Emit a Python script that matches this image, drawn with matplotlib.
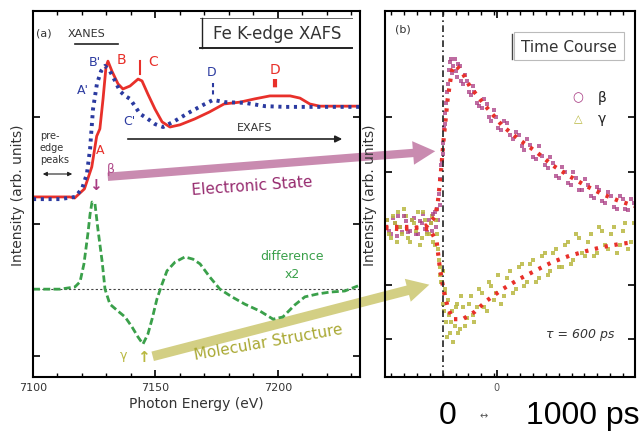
import numpy as np
import matplotlib
matplotlib.use('Agg')
import matplotlib.pyplot as plt
from matplotlib.ticker import FixedLocator, NullFormatter

# --- (a) Fe K-edge XANES spectra ---
E_red = [7100, 7115, 7117, 7121, 7124, 7126, 7127.3, 7128.6, 7129.8, 7130.6, 7132.2, 7134.7,
         7136.7, 7139.6, 7142.9, 7144.5, 7146.9, 7149.8, 7152.7, 7155.9, 7160, 7166, 7172,
         7178, 7184.5, 7190.6, 7196.7, 7205, 7209, 7213, 7217, 7233]
I_red = [4.92, 4.92, 4.89, 5.14, 5.74, 6.58, 6.78, 7.60, 8.47, 8.63, 8.36, 8.01,
         7.87, 7.95, 8.14, 8.09, 7.73, 7.32, 6.97, 6.83, 6.89, 7.05, 7.24,
         7.46, 7.51, 7.60, 7.68, 7.68, 7.62, 7.46, 7.40, 7.40]

E_blue = [7100, 7111, 7117.1, 7120, 7122, 7123.3, 7124.5, 7126.1, 7127.8, 7129.4, 7131.4,
          7133.5, 7135.5, 7137.6, 7139.6, 7141.6, 7143.7, 7146.9, 7149.8, 7153.1, 7158,
          7164.1, 7170.2, 7173.5, 7178.4, 7186.5, 7194.7, 7202.9, 7213.1, 7233.5]
I_blue = [4.86, 4.86, 4.92, 5.14, 5.55, 6.23, 7.32, 8.01, 8.36, 8.50, 8.36,
          8.09, 7.81, 7.68, 7.60, 7.40, 7.19, 7.05, 6.91, 6.83, 7.00,
          7.24, 7.46, 7.57, 7.51, 7.49, 7.40, 7.38, 7.38, 7.38]

E_diff = [7100, 7104.9, 7111, 7117.1, 7119.2, 7120.8, 7122.4, 7123.3, 7124.1, 7125.3, 7126.5,
          7128.2, 7129.4, 7131.4, 7134.7, 7137.6, 7140.4, 7142.9, 7144.9, 7146.9, 7148.6,
          7150.6, 7152.7, 7154.7, 7158, 7162, 7165.3, 7168.2, 7172.2, 7176.3, 7181.2,
          7186.5, 7192.7, 7198, 7202, 7206.9, 7211, 7216.3, 7221.2, 7227.3, 7232.7]
I_diff = [2.40, 2.40, 2.40, 2.46, 2.60, 3.09, 3.91, 4.45, 4.78, 4.73, 4.04,
          3.17, 2.40, 1.99, 1.80, 1.64, 1.37, 1.09, 0.90, 1.17, 1.58,
          2.13, 2.54, 2.90, 3.14, 3.28, 3.22, 3.09, 2.73, 2.40, 2.19,
          1.99, 1.80, 1.58, 1.64, 1.97, 2.19, 2.27, 2.32, 2.35, 2.49]
diff_zero = 2.40

# --- (b) time course ---
t_beta_fit = [-300, -223, -145, -78, -41, -26, -10, 5, 26, 47, 67, 98, 140, 223, 311, 399,
              487, 570, 658, 746, 829, 917, 1000]
y_beta_fit = [4.07, 4.04, 4.07, 4.15, 4.37, 4.73, 5.55, 6.50, 7.60, 8.36, 8.52, 8.36, 7.95,
              7.40, 6.86, 6.48, 6.15, 5.79, 5.49, 5.22, 5.00, 4.81, 4.67]
t_gam_fit = [-300, -171, -67, -31, -16, 5, 26, 52, 104, 166, 228, 311, 399, 487, 570, 658,
             746, 829, 917, 1000]
y_gam_fit = [4.10, 4.10, 4.04, 3.69, 3.03, 2.35, 1.91, 1.58, 1.58, 1.78, 2.08, 2.40, 2.68,
             2.92, 3.14, 3.31, 3.44, 3.55, 3.63, 3.69]

t_obs = [-290, -270, -250, -230, -210, -190, -170, -150, -130, -110, -90, -70, -55, -40, -30,
         -20, -12, -5, 2, 10, 18, 28, 38, 50, 62, 75, 90, 105, 125, 145, 165, 190, 215, 240,
         265, 290, 320, 350, 380, 410, 440, 470, 500, 530, 560, 590, 620, 650, 680, 710, 740,
         770, 800, 830, 860, 890, 920, 950, 980]
beta_obs = [4.3, 3.9, 4.2, 4.4, 3.95, 4.25, 4.0, 4.35, 3.9, 4.2, 4.05, 4.3, 4.0, 4.5, 4.6,
            5.0, 5.4, 5.9, 6.4, 6.9, 7.5, 8.0, 8.6, 8.3, 8.7, 8.2, 8.5, 8.0, 8.1, 7.7, 7.8,
            7.4, 7.6, 7.1, 7.3, 6.8, 7.0, 6.6, 6.7, 6.3, 6.5, 6.0, 6.3, 5.8, 6.0, 5.5, 5.75,
            5.3, 5.6, 5.1, 5.4, 4.95, 5.2, 4.8, 5.05, 4.65, 4.95, 4.6, 4.85]
gam_obs = [4.3, 3.8, 4.2, 4.5, 3.9, 4.4, 3.7, 4.2, 4.5, 3.8, 4.3, 3.9, 4.4, 3.6, 3.9,
           3.2, 2.8, 2.6, 2.0, 2.4, 1.5, 2.1, 1.2, 1.8, 1.4, 2.0, 1.3, 1.9, 1.6, 2.2, 1.5,
           2.4, 1.9, 2.6, 2.1, 2.8, 2.2, 2.9, 2.4, 3.1, 2.6, 3.2, 2.7, 3.4, 2.9, 3.5, 3.0,
           3.7, 3.2, 3.8, 3.3, 3.9, 3.4, 4.0, 3.5, 4.1, 3.6, 4.2, 3.7]

t_obs2 = [-280, -260, -240, -220, -200, -180, -160, -140, -120, -100, -80, -62, -48, -35, -25,
          -16, -8, -1, 6, 14, 23, 33, 44, 56, 68, 82, 97, 115, 135, 155, 178, 202, 228, 252,
          278, 305, 335, 365, 395, 425, 455, 485, 515, 545, 575, 605, 635, 665, 695, 725, 755,
          785, 815, 845, 875, 905, 935, 965, 995]
beta_obs2 = [4.0, 4.35, 3.85, 4.1, 4.4, 3.95, 4.3, 3.9, 4.25, 4.45, 3.95, 4.2, 4.45, 4.1, 4.3,
             4.7, 5.8, 6.1, 6.8, 7.2, 7.8, 8.4, 8.7, 8.5, 8.35, 8.55, 8.1, 8.25, 7.8, 7.95,
             7.5, 7.35, 7.45, 7.0, 7.1, 6.75, 6.95, 6.5, 6.6, 6.2, 6.35, 5.95, 6.05, 5.7, 5.85,
             5.45, 5.6, 5.25, 5.45, 5.1, 5.25, 4.9, 5.1, 4.75, 4.95, 4.6, 4.85, 4.55, 4.75]
gam_obs2 = [3.9, 4.4, 3.7, 4.1, 4.6, 3.8, 4.3, 4.0, 3.6, 4.5, 3.9, 4.2, 3.7, 4.3, 3.5,
            3.0, 2.6, 2.9, 1.8, 2.3, 1.1, 1.7, 1.5, 0.95, 1.9, 1.2, 2.2, 1.4, 2.0, 1.7,
            1.9, 2.3, 1.8, 2.5, 2.3, 2.0, 2.7, 2.3, 3.0, 2.5, 3.1, 2.6, 3.3, 2.8, 3.4,
            3.0, 3.6, 3.1, 3.9, 3.4, 3.7, 3.3, 4.1, 3.6, 3.9, 3.4, 4.0, 3.5, 4.2]

RED = '#e8302a'
BLUE = '#2b3aa0'
GREEN = '#3aa04a'
PURPLE = '#a83a82'
OLIVE = '#b9b840'

W, H = 644, 435
fig = plt.figure(figsize=(W / 100, H / 100), dpi=100)
plt.rcParams['font.family'] = ['DejaVu Sans']

def ft(x, y, s, **kw):
    # text placed in pixel coordinates of the picture (from top-left)
    fig.text(x / W, 1 - y / H, s, **kw)

def fline(xs, ys, **kw):
    fig.add_artist(plt.Line2D([x / W for x in xs], [1 - y / H for y in ys], **kw))

ax1 = fig.add_axes([33 / W, 57 / H, 327 / W, 366 / H])
ax2 = fig.add_axes([385 / W, 57 / H, 250 / W, 366 / H])
ax2.set_facecolor('none')

# left panel
ax1.plot(E_red, I_red, color=RED, lw=2)
ax1.plot(E_blue, I_blue, color=BLUE, lw=2.8, ls=(0, (0.8, 1.2)))
ax1.axhline(diff_zero, color='#444444', lw=0.8, ls=(0, (2, 2)))
ax1.plot(E_diff, I_diff, color=GREEN, lw=2, ls=(0, (2.5, 1.2)))
ax1.set_xlim(7100, 7233.5)
ax1.set_ylim(0, 10)
ax1.set_xticks([7100, 7150, 7200])
ax1.set_xticklabels(['7100', '7150', '7200'], fontsize=8, color='#333333')
ax1.xaxis.set_minor_locator(FixedLocator(np.arange(7110, 7233, 10)))
ax1.yaxis.set_major_locator(FixedLocator([0.57, 4.18, 7.1]))
ax1.yaxis.set_major_formatter(NullFormatter())
ax1.tick_params(direction='in', top=True, right=True, length=5, width=1.2)
ax1.tick_params(which='minor', direction='in', top=True, length=3, width=1)
ax1.set_xlabel('Photon Energy (eV)', fontsize=10, color='#333333', labelpad=3)
ax1.set_ylabel('Intensity (arb. units)', fontsize=10, color='#333333', labelpad=2)
for s in ax1.spines.values():
    s.set_linewidth(1.5)

# right panel
for tt, bb, gg in [(t_obs, beta_obs, gam_obs), (t_obs2, beta_obs2, gam_obs2)]:
    ax2.scatter(tt, bb, s=7, marker='s', color=PURPLE, alpha=0.75, lw=0)
    ax2.scatter(tt, gg, s=7, marker='s', color=OLIVE, alpha=0.85, lw=0)
ax2.plot(t_beta_fit, y_beta_fit, color=RED, lw=3, ls=(0, (0.8, 1.6)))
ax2.plot(t_gam_fit, y_gam_fit, color=RED, lw=3, ls=(0, (0.8, 1.6)))
ax2.axvline(0, color='#222222', lw=1.2, ls=(0, (4, 2, 1, 2)))
ax2.set_xlim(-300, 1000)
ax2.set_ylim(0, 10)
ax2.set_xticks([280])
ax2.set_xticklabels(['0'], fontsize=7, color='#555555')
ax2.xaxis.set_minor_locator(FixedLocator(np.arange(-268, 1000, 67)))
ax2.yaxis.set_major_locator(FixedLocator([1.04, 2.51, 5.6, 7.1]))
ax2.yaxis.set_major_formatter(NullFormatter())
ax2.tick_params(direction='in', top=True, right=True, length=5, width=1.2)
ax2.tick_params(which='minor', direction='in', top=True, length=3, width=1)
ax2.set_ylabel('Intensity (arb. units)', fontsize=10, color='#333333', labelpad=2)
for s in ax2.spines.values():
    s.set_linewidth(1.5)

# big arrows
ax1.annotate('', xy=(438, H - 152), xycoords='figure pixels', xytext=(105, H - 178),
             textcoords='figure pixels', annotation_clip=False, zorder=1,
             arrowprops=dict(arrowstyle='simple,head_width=1.7,head_length=1.6,tail_width=0.6',
                             color='#c98bb0', lw=0))
ax1.annotate('', xy=(432, H - 285), xycoords='figure pixels', xytext=(150, H - 358),
             textcoords='figure pixels', annotation_clip=False, zorder=1,
             arrowprops=dict(arrowstyle='simple,head_width=1.7,head_length=1.6,tail_width=0.7',
                             color='#d3cf84', lw=0))
ax1.annotate('', xy=(345, H - 140), xycoords='figure pixels', xytext=(125, H - 140),
             textcoords='figure pixels', annotation_clip=False,
             arrowprops=dict(arrowstyle='-|>', color='#222222', lw=1.2))
ax1.annotate('', xy=(40, H - 175), xycoords='figure pixels', xytext=(75, H - 175),
             textcoords='figure pixels', annotation_clip=False,
             arrowprops=dict(arrowstyle='<|-|>', color='#222222', lw=0.8, mutation_scale=6))

# panel (a) texts
ft(36, 34, '(a)', fontsize=8, color='#333333', va='center')
ft(68, 34, 'XANES', fontsize=8, color='#333333', va='center')
fline([75, 118], [45, 45], color='#222222', lw=1.2)
ft(277, 34, 'Fe K-edge XAFS', fontsize=12, color='#333333', ha='center', va='center')
fline([200, 352], [49, 49], color='#222222', lw=1.4)
fline([200, 352], [19, 19], color='#666666', lw=0.7)
fline([202, 202], [19, 49], color='#222222', lw=1)
ft(255, 128, 'EXAFS', fontsize=8, color='#333333', ha='center', va='center')
ft(40, 148, 'pre-\nedge\npeaks', fontsize=7, color='#333333', va='center', linespacing=1.3)
ft(95, 62, "B'", fontsize=9, color=BLUE, ha='center', va='center')
ft(121, 60, 'B', fontsize=10, color=RED, ha='center', va='center')
ft(153, 62, 'C', fontsize=10, color=RED, ha='center', va='center')
ft(83, 90, "A'", fontsize=9, color=BLUE, ha='center', va='center')
ft(129, 122, "C'", fontsize=9, color=BLUE, ha='center', va='center')
ft(212, 72, 'D', fontsize=9, color=BLUE, ha='center', va='center')
ft(275, 70, 'D', fontsize=10, color=RED, ha='center', va='center')
ft(100, 150, 'A', fontsize=9, color=RED, ha='center', va='center')
ft(111, 170, 'β', fontsize=9, color='#b04a8a', ha='center', va='center')
ft(124, 356, 'γ', fontsize=9, color=OLIVE, ha='center', va='center')
ft(95, 186, '↓', fontsize=11, color=PURPLE, ha='center', va='center', fontweight='bold')
ft(143, 358, '↑', fontsize=11, color=OLIVE, ha='center', va='center', fontweight='bold')
ft(252, 186, 'Electronic State', fontsize=11, color='#962a6e', ha='center', va='center', rotation=4)
ft(268, 342, 'Molecular Structure', fontsize=11, color='#a9a832', ha='center', va='center',
   rotation=10)
ft(292, 266, 'difference\nx2', fontsize=9, color=GREEN, ha='center', va='center', linespacing=1.5)
fline([140, 140], [62, 75], color=RED, lw=1.5)
fline([213, 213], [84, 98], color=BLUE, lw=1.5, ls=(0, (2, 1.5)))
fline([275, 275], [80, 94], color=RED, lw=3, ls=(0, (2, 1.5)))

# panel (b) texts
ft(395, 30, '(b)', fontsize=8, color='#333333', va='center')
ft(569, 47, 'Time Course', fontsize=11, color='#333333', ha='center', va='center',
   bbox=dict(boxstyle='square,pad=0.45', fc='white', ec='#bbbbbb', lw=0.8))
fline([512, 512], [35, 60], color='#444444', lw=1)
ft(578, 98, '○', fontsize=9, color=PURPLE, ha='center', va='center')
ft(602, 98, 'β', fontsize=10, color='#222222', ha='center', va='center')
ft(578, 119, '△', fontsize=8, color=OLIVE, ha='center', va='center')
ft(602, 119, 'γ', fontsize=10, color='#222222', ha='center', va='center')
ft(580, 335, 'τ = 600 ps', fontsize=9, color='#333333', ha='center', va='center', style='italic')

# big overlay time scale
ft(448, 416, '0', fontsize=23, family='Liberation Sans', ha='center', va='center')
ft(484, 416, '↔', fontsize=7, color='#555555', ha='center', va='center')
ft(583, 416, '1000 ps', fontsize=23, family='Liberation Sans', ha='center', va='center')

fig.savefig('out.png', dpi=100)
